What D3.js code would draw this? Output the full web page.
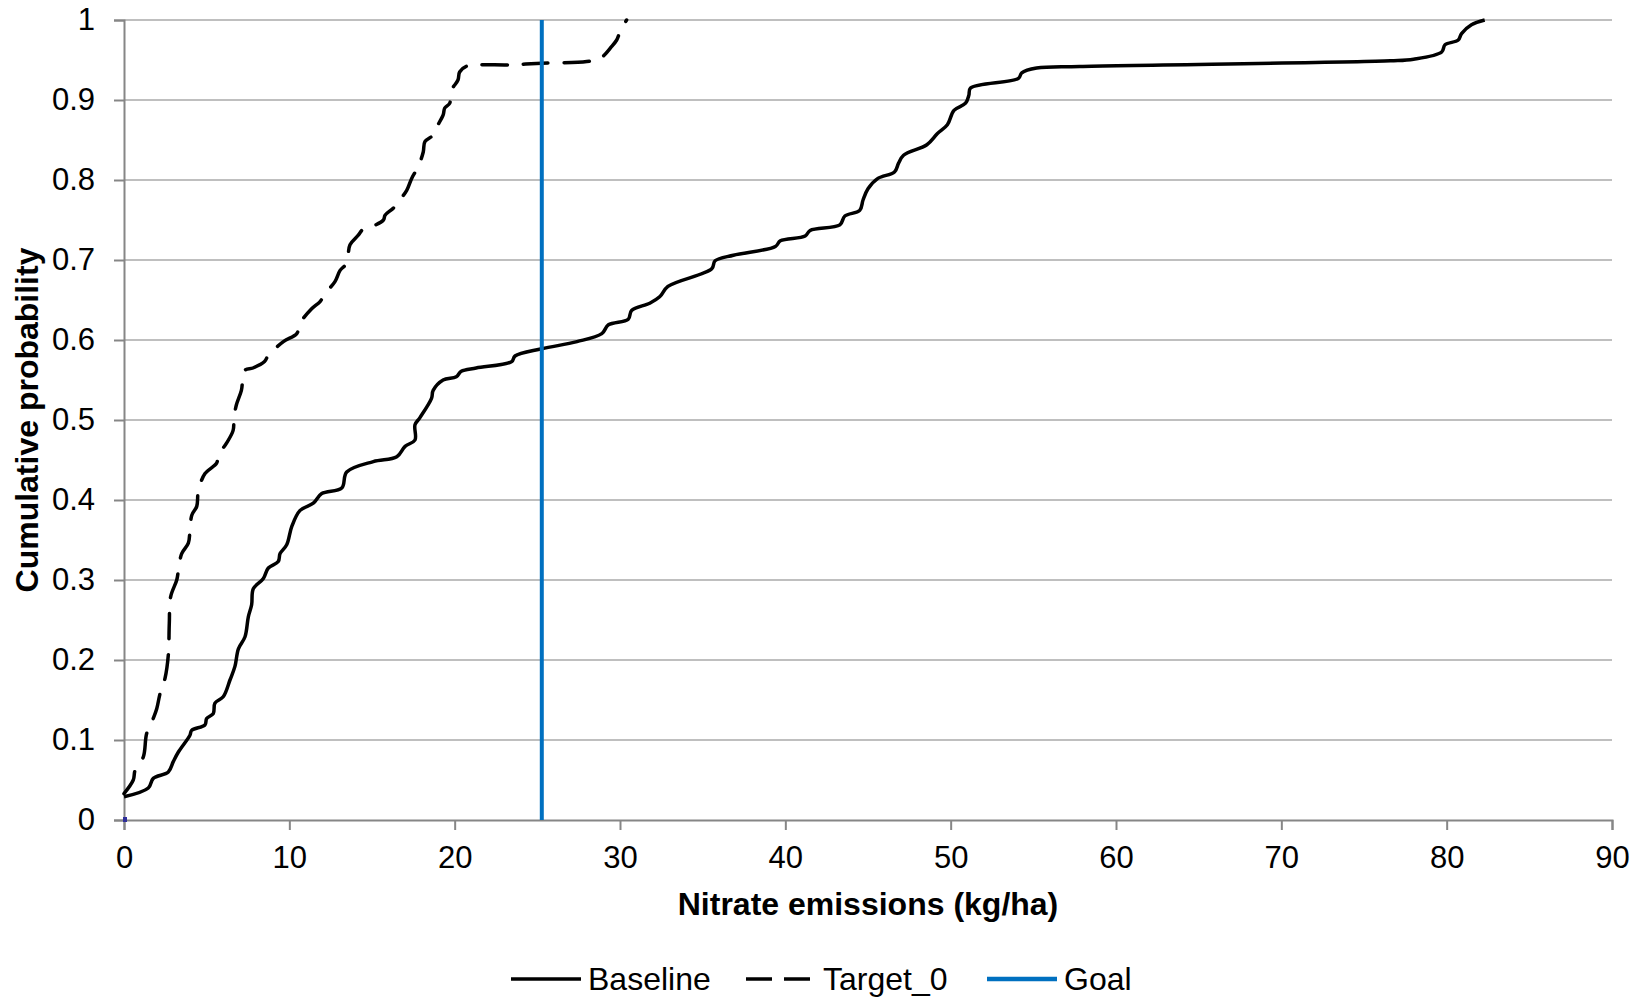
<!DOCTYPE html>
<html>
<head>
<meta charset="utf-8">
<script src="https://cdn.jsdelivr.net/npm/d3@7.9.0/dist/d3.min.js"></script>
<style>
  html, body { margin: 0; padding: 0; background: #fff; }
  svg text { font-family: "Liberation Sans", Arial, sans-serif; fill: #000; }
</style>
</head>
<body>
<svg id="chart" width="1644" height="997"></svg>
<script>
// Baseline CDF: [nitrate kg/ha, cumulative probability]
const baseline = [
  [0, 0.029], [1.47, 0.040], [1.77, 0.052], [2.68, 0.060], [2.98, 0.073], [3.29, 0.085],
  [3.99, 0.106], [4.09, 0.112], [4.9, 0.119], [5.0, 0.127], [5.4, 0.133], [5.5, 0.146],
  [6.0, 0.154], [6.41, 0.175], [6.71, 0.192], [6.92, 0.214], [7.32, 0.229], [7.52, 0.254],
  [7.72, 0.269], [7.82, 0.289], [8.43, 0.302], [8.73, 0.315], [9.33, 0.323], [9.44, 0.333],
  [9.84, 0.344], [10.15, 0.367], [10.65, 0.387], [11.45, 0.396], [11.96, 0.408], [13.17, 0.415],
  [13.47, 0.435], [15.08, 0.448], [16.5, 0.454], [17.0, 0.467], [17.6, 0.475], [17.6, 0.494],
  [17.9, 0.503], [18.6, 0.527], [18.7, 0.537], [19.3, 0.550], [20.1, 0.554], [20.4, 0.561],
  [21.3, 0.565], [23.45, 0.573], [23.65, 0.580], [25.27, 0.589], [27.4, 0.598], [28.9, 0.608],
  [29.3, 0.619], [30.5, 0.626], [30.7, 0.637], [31.8, 0.646], [32.4, 0.654], [32.9, 0.667],
  [35.55, 0.689], [35.75, 0.699], [36.86, 0.706], [39.4, 0.717], [39.7, 0.724], [41.2, 0.730],
  [41.5, 0.737], [43.3, 0.744], [43.6, 0.755], [44.5, 0.762], [44.7, 0.775], [45.0, 0.789],
  [45.6, 0.802], [46.6, 0.810], [46.85, 0.821], [47.15, 0.831], [48.56, 0.844], [49.2, 0.858],
  [49.8, 0.869], [50.2, 0.887], [50.9, 0.896], [51.1, 0.906], [51.2, 0.915], [54.1, 0.927],
  [54.3, 0.934], [55.2, 0.940], [57.8, 0.942], [76.6, 0.949], [78.0, 0.951], [79.7, 0.960],
  [79.9, 0.969], [80.7, 0.975], [80.9, 0.983], [81.5, 0.994], [82.3, 1.0]
];

// Target_0 CDF
const target0 = [
  [0, 0.033], [0.56, 0.050], [0.67, 0.062], [1.17, 0.079], [1.37, 0.108], [1.77, 0.127],
  [1.98, 0.139], [2.18, 0.158], [2.48, 0.177], [2.68, 0.206], [2.74, 0.246], [2.82, 0.279],
  [3.19, 0.300], [3.29, 0.312], [3.49, 0.333], [3.89, 0.346], [3.99, 0.362], [4.1, 0.381],
  [4.4, 0.392], [4.5, 0.412], [4.9, 0.433], [5.6, 0.446], [5.7, 0.456], [6.2, 0.471],
  [6.6, 0.487], [6.65, 0.503], [6.8, 0.519], [7.1, 0.537], [7.3, 0.562], [7.8, 0.565],
  [8.5, 0.573], [8.73, 0.581], [9.64, 0.598], [10.45, 0.608], [10.65, 0.621], [11.35, 0.639],
  [11.86, 0.648], [12.16, 0.658], [12.76, 0.673], [13.07, 0.687], [13.47, 0.696], [13.67, 0.719],
  [14.17, 0.731], [14.48, 0.739], [14.78, 0.740], [15.69, 0.750], [15.79, 0.756], [16.3, 0.765],
  [16.6, 0.773], [17.1, 0.787], [17.4, 0.802], [17.8, 0.817], [18.1, 0.835], [18.2, 0.848],
  [18.7, 0.856], [18.8, 0.862], [19.3, 0.881], [19.4, 0.890], [19.7, 0.896], [19.8, 0.912],
  [20.2, 0.925], [20.3, 0.935], [20.7, 0.942], [23.35, 0.944], [25.27, 0.946], [27.99, 0.948],
  [28.8, 0.952], [29.5, 0.967], [29.8, 0.975], [30.0, 0.985], [30.4, 1.0]
];

// Goal: vertical line at this nitrate level
const goalValue = 25.27;
const goal = [[goalValue, 0], [goalValue, 1]];

const xTicks = [0, 10, 20, 30, 40, 50, 60, 70, 80, 90];
const yTicks = [0, 0.1, 0.2, 0.3, 0.4, 0.5, 0.6, 0.7, 0.8, 0.9, 1];
const legendItems = ["Baseline", "Target_0", "Goal"];

const svg = d3.select('#chart');
const plotLeft = 124, plotRight = 1612, plotTop = 20, plotBottom = 820;

const x = d3.scaleLinear().domain([0, 90]).range([plotLeft, plotRight]);
const y = d3.scaleLinear().domain([0, 1]).range([plotBottom, plotTop]);

// horizontal gridlines
svg.append('g')
  .selectAll('line')
  .data(yTicks.filter(d => d > 0))
  .enter()
  .append('line')
  .attr('x1', plotLeft).attr('x2', plotRight)
  .attr('y1', d => y(d)).attr('y2', d => y(d))
  .attr('stroke', '#bfbfbf')
  .attr('stroke-width', 2);

// y axis
const yAxis = svg.append('g')
  .attr('transform', `translate(${plotLeft},0)`)
  .call(d3.axisLeft(y).tickValues(yTicks).tickFormat(d => d === 0 || d === 1 ? d : d.toFixed(1)).tickSize(10).tickPadding(19));
yAxis.select('.domain').attr('stroke', '#868686').attr('stroke-width', 2);
yAxis.selectAll('.tick line').attr('stroke', '#868686').attr('stroke-width', 2);
yAxis.selectAll('.tick text').attr('font-size', 31).attr('font-family', '"Liberation Sans", Arial, sans-serif').attr('fill', '#000');

// x axis
const xAxis = svg.append('g')
  .attr('transform', `translate(0,${plotBottom})`)
  .call(d3.axisBottom(x).tickValues(xTicks).tickSize(10).tickPadding(16));
xAxis.select('.domain').attr('stroke', '#868686').attr('stroke-width', 2);
xAxis.selectAll('.tick line').attr('stroke', '#868686').attr('stroke-width', 2);
xAxis.selectAll('.tick text').attr('font-size', 31).attr('font-family', '"Liberation Sans", Arial, sans-serif').attr('fill', '#000');

const line = d3.line()
  .x(d => x(d[0]))
  .y(d => y(d[1]))
  .curve(d3.curveCatmullRom.alpha(0.5));

svg.append('path')
  .datum(baseline)
  .attr('d', line)
  .attr('fill', 'none')
  .attr('stroke', '#000')
  .attr('stroke-width', 3.5)
  .attr('stroke-linejoin', 'round');

svg.append('path')
  .datum(target0)
  .attr('d', line)
  .attr('fill', 'none')
  .attr('stroke', '#000')
  .attr('stroke-width', 3.5)
  .attr('stroke-linecap', 'round')
  .attr('stroke-dasharray', '25,16');

svg.append('path')
  .datum(goal)
  .attr('d', d3.line().x(d => x(d[0])).y(d => y(d[1])))
  .attr('fill', 'none')
  .attr('stroke', '#0070c0')
  .attr('stroke-width', 4);

// tiny marker at the origin
svg.append('rect')
  .attr('x', x(0) - 1).attr('y', y(0) - 3)
  .attr('width', 4).attr('height', 5)
  .attr('fill', '#2e2e9a');

// axis titles
svg.append('text')
  .attr('x', (plotLeft + plotRight) / 2).attr('y', 915)
  .attr('text-anchor', 'middle')
  .attr('font-size', 32).attr('font-weight', 'bold')
  .text('Nitrate emissions (kg/ha)');

svg.append('text')
  .attr('transform', `translate(38,${(plotTop + plotBottom) / 2}) rotate(-90)`)
  .attr('text-anchor', 'middle')
  .attr('font-size', 32).attr('font-weight', 'bold')
  .text('Cumulative probability');

// legend
const legendX = [511, 746, 987];
const legendStyle = [
  { color: '#000', dash: null },
  { color: '#000', dash: '26,12' },
  { color: '#0070c0', dash: null }
];
const legend = svg.append('g');
legendItems.forEach((name, i) => {
  legend.append('line')
    .attr('x1', legendX[i]).attr('x2', legendX[i] + 70)
    .attr('y1', 979).attr('y2', 979)
    .attr('stroke', legendStyle[i].color)
    .attr('stroke-width', i === 2 ? 4.5 : 3.5)
    .attr('stroke-dasharray', legendStyle[i].dash);
  legend.append('text')
    .attr('x', legendX[i] + 77).attr('y', 990)
    .attr('font-size', 32)
    .text(name);
});
</script>
</body>
</html>
